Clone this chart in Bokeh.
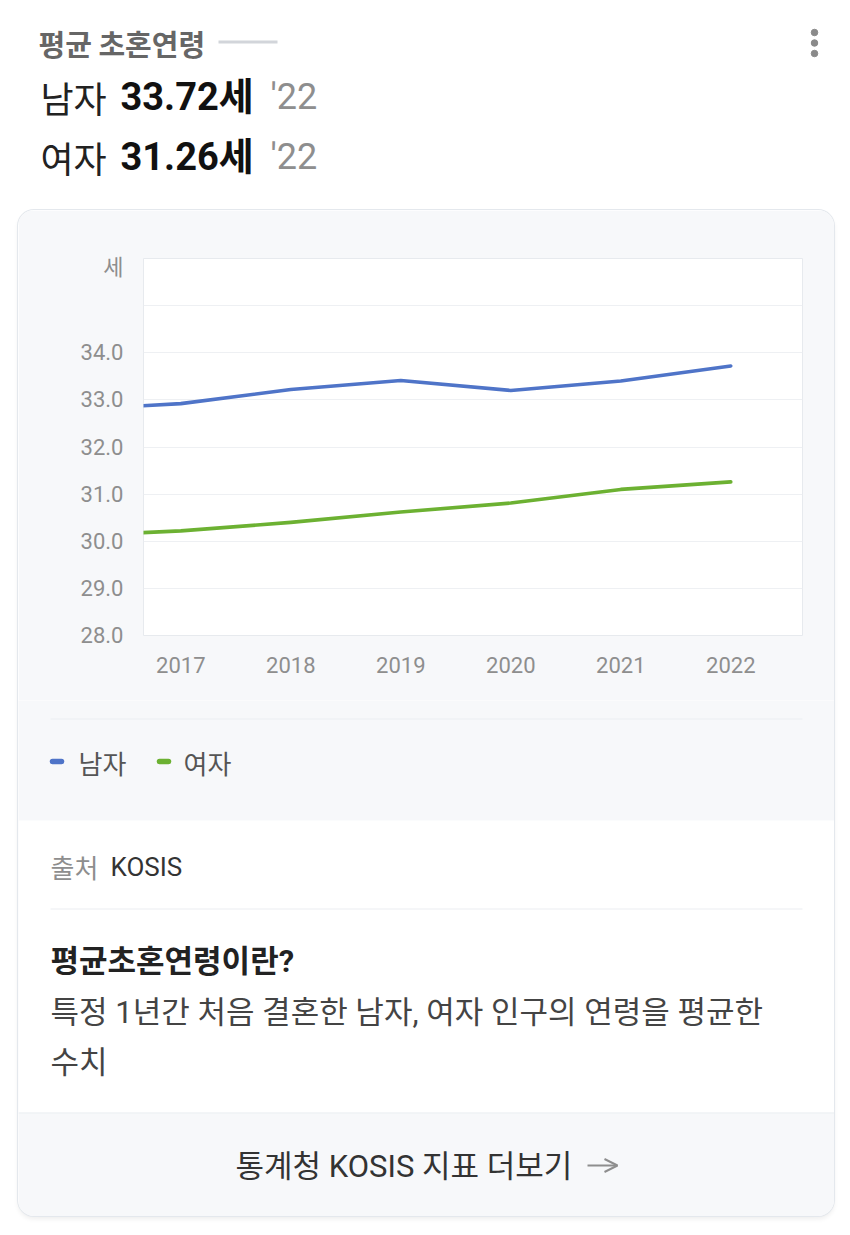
from bokeh.plotting import figure
from bokeh.layouts import column, row
from bokeh.models import (ColumnDataSource, FixedTicker, Label, BoxAnnotation, Arrow,
                          OpenHead, NumeralTickFormatter, Range1d, Spacer)
from bokeh.embed import file_html
from bokeh.resources import INLINE

# ---------------- data ----------------
years = [2016, 2017, 2018, 2019, 2020, 2021, 2022]
male = [32.79, 32.92, 33.22, 33.41, 33.20, 33.40, 33.72]
female = [30.11, 30.22, 30.40, 30.62, 30.81, 31.10, 31.26]
x_ticks = [2017, 2018, 2019, 2020, 2021, 2022]
y_ticks = [28, 29, 30, 31, 32, 33, 34]
grid_ticks = [29, 30, 31, 32, 33, 34, 35]
unit_tick = 35.8
unit_label = "세"
series_names = ["남자", "여자"]
series_colors = ["#4f74c8", "#6cb132"]
latest_label = "'22"

KR = "Noto Sans CJK KR"
MIX = "Roboto, 'Noto Sans CJK KR'"
CARD = "#f7f8fa"
W, H = 850, 1235
CL, CT, CR, CB = 18, 210, 834, 1216     # card box on the page
FL, FT, FR, FB = 143, 258, 802, 635     # plot frame on the page
CHART_BOTTOM = 700
SHIFT = 0.42                            # empirical baseline correction


def blank(width, height, x0, x1, y0, y1, fill):
    f = figure(width=width, height=height, output_backend="svg", toolbar_location=None,
               title=None, x_axis_type=None, y_axis_type=None,
               x_range=Range1d(x0, x1), y_range=Range1d(y1, y0), min_border=0,
               background_fill_color=fill, border_fill_color=fill,
               outline_line_color=None)
    f.xgrid.visible = False
    f.ygrid.visible = False
    return f


def label(f, text, x, y, size, color="#333333", bold=False, font=KR, align="left"):
    f.add_layout(Label(x=x, y=y - SHIFT * size, text=text, text_font=font,
                       text_font_size=f"{size}px", text_color=color,
                       text_font_style="bold" if bold else "normal",
                       text_align=align, text_baseline="alphabetic"))


def box(f, l, t, r, b, fill):
    f.add_layout(BoxAnnotation(left=l, right=r, top=t, bottom=b, fill_color=fill,
                               fill_alpha=1, line_color=None, level="underlay"))


# ---------------- header (page coords) ----------------
head = blank(W, CT, 0, W, 0, CT, "white")
label(head, "평균 초혼연령", 38, 55, 29, color="#666666", bold=True)
head.segment(x0=[218], y0=[41.5], x1=[277], y1=[41.5], line_color="#d2d5da", line_width=3)
head.scatter(x=[814, 814, 814], y=[32, 42.5, 53], size=6.5, color="#8a8a8a")
for name, vals, base in zip(series_names, [male, female], [112, 172]):
    label(head, name, 40, base, 36, color="#222222")
    label(head, f"{vals[-1]:.2f}세", 120, base, 38, color="#111111", bold=True, font=MIX)
    label(head, latest_label, 270, base, 36, color="#8e8e8e", font=MIX)

# ---------------- chart ----------------
p = figure(width=CR - CL, height=CHART_BOTTOM - CT, output_backend="svg",
           toolbar_location=None, title=None,
           x_range=Range1d(2016.661, 2022.652), y_range=Range1d(28, 36),
           min_border_left=FL - CL, min_border_right=CR - FR, min_border_top=FT - CT,
           min_border_bottom=CHART_BOTTOM - FB, background_fill_color="white",
           border_fill_color=CARD, outline_line_color="#e7eaee", outline_line_width=1)
p.xaxis.ticker = FixedTicker(ticks=x_ticks)
p.xaxis.formatter = NumeralTickFormatter(format="0")
p.yaxis.ticker = FixedTicker(ticks=y_ticks + [unit_tick])
p.yaxis.formatter = NumeralTickFormatter(format="0.0")
p.yaxis.major_label_overrides = {unit_tick: unit_label}
for ax in (p.xaxis[0], p.yaxis[0]):
    ax.axis_line_color = None
    ax.major_tick_line_color = None
    ax.minor_tick_line_color = None
    ax.major_tick_in = 0
    ax.major_tick_out = 0
    ax.major_label_text_font = MIX
    ax.major_label_text_font_size = "22px"
    ax.major_label_text_color = "#8e8e8e"
p.yaxis.major_label_standoff = 20
p.xaxis.major_label_standoff = 21
p.xgrid.visible = False
p.ygrid.ticker = FixedTicker(ticks=grid_ticks)
p.ygrid.grid_line_color = "#eef0f3"

src = ColumnDataSource(dict(year=years, male=male, female=female))
for col, color in zip(["male", "female"], series_colors):
    p.line("year", col, source=src, line_color=color, line_width=3.6,
           line_join="round", line_cap="round")

# ---------------- lower part of the card (page coords) ----------------
low = blank(CR - CL, CB - CHART_BOTTOM, CL, CR, CHART_BOTTOM, CB, CARD)
box(low, CL, 820, CR, 1113, "white")
box(low, CL, 1112, CR, 1113, "#e8ebef")
box(low, 50, 718, 802, 719, "#eceef1")
box(low, 50, 908, 802, 909, "#eceef1")

for name, color, sx, tx in zip(series_names, series_colors, [52, 159], [78, 183]):
    low.segment(x0=[sx], y0=[761], x1=[sx + 9], y1=[761], line_color=color,
                line_width=5.5, line_cap="round")
    label(low, name, tx, 773, 26, color="#555555")

label(low, "출처", 50, 877, 26, color="#8e8e8e")
label(low, "KOSIS", 110, 877, 26, color="#333333", font=MIX)
label(low, "평균초혼연령이란?", 50, 974, 31, color="#222222", bold=True, font=MIX)
label(low, "특정 1년간 처음 결혼한 남자, 여자 인구의 연령을 평균한", 50, 1025, 31,
      color="#444444", font=MIX)
label(low, "수치", 50, 1072, 31, color="#444444")
label(low, "통계청 KOSIS 지표 더보기", 235, 1179, 31, color="#333333", font=MIX)
low.add_layout(Arrow(end=OpenHead(size=13, line_color="#8e8e8e", line_width=2),
                     x_start=587, y_start=1165, x_end=617, y_end=1165,
                     line_color="#8e8e8e", line_width=2))

card = column(row(p, spacing=0), row(low, spacing=0), spacing=0,
              styles={"border-radius": "16px", "overflow": "hidden",
                      "box-shadow": "0 0 0 1px #e4e8ed, 0 3px 5px rgba(0,0,0,0.07)"})
layout = column(row(head, spacing=0),
                row(Spacer(width=CL, height=CB - CT), card,
                    Spacer(width=W - CR, height=CB - CT), spacing=0),
                Spacer(width=W, height=H - CB), spacing=0)

open("out.html", "w").write(file_html(layout, INLINE))
